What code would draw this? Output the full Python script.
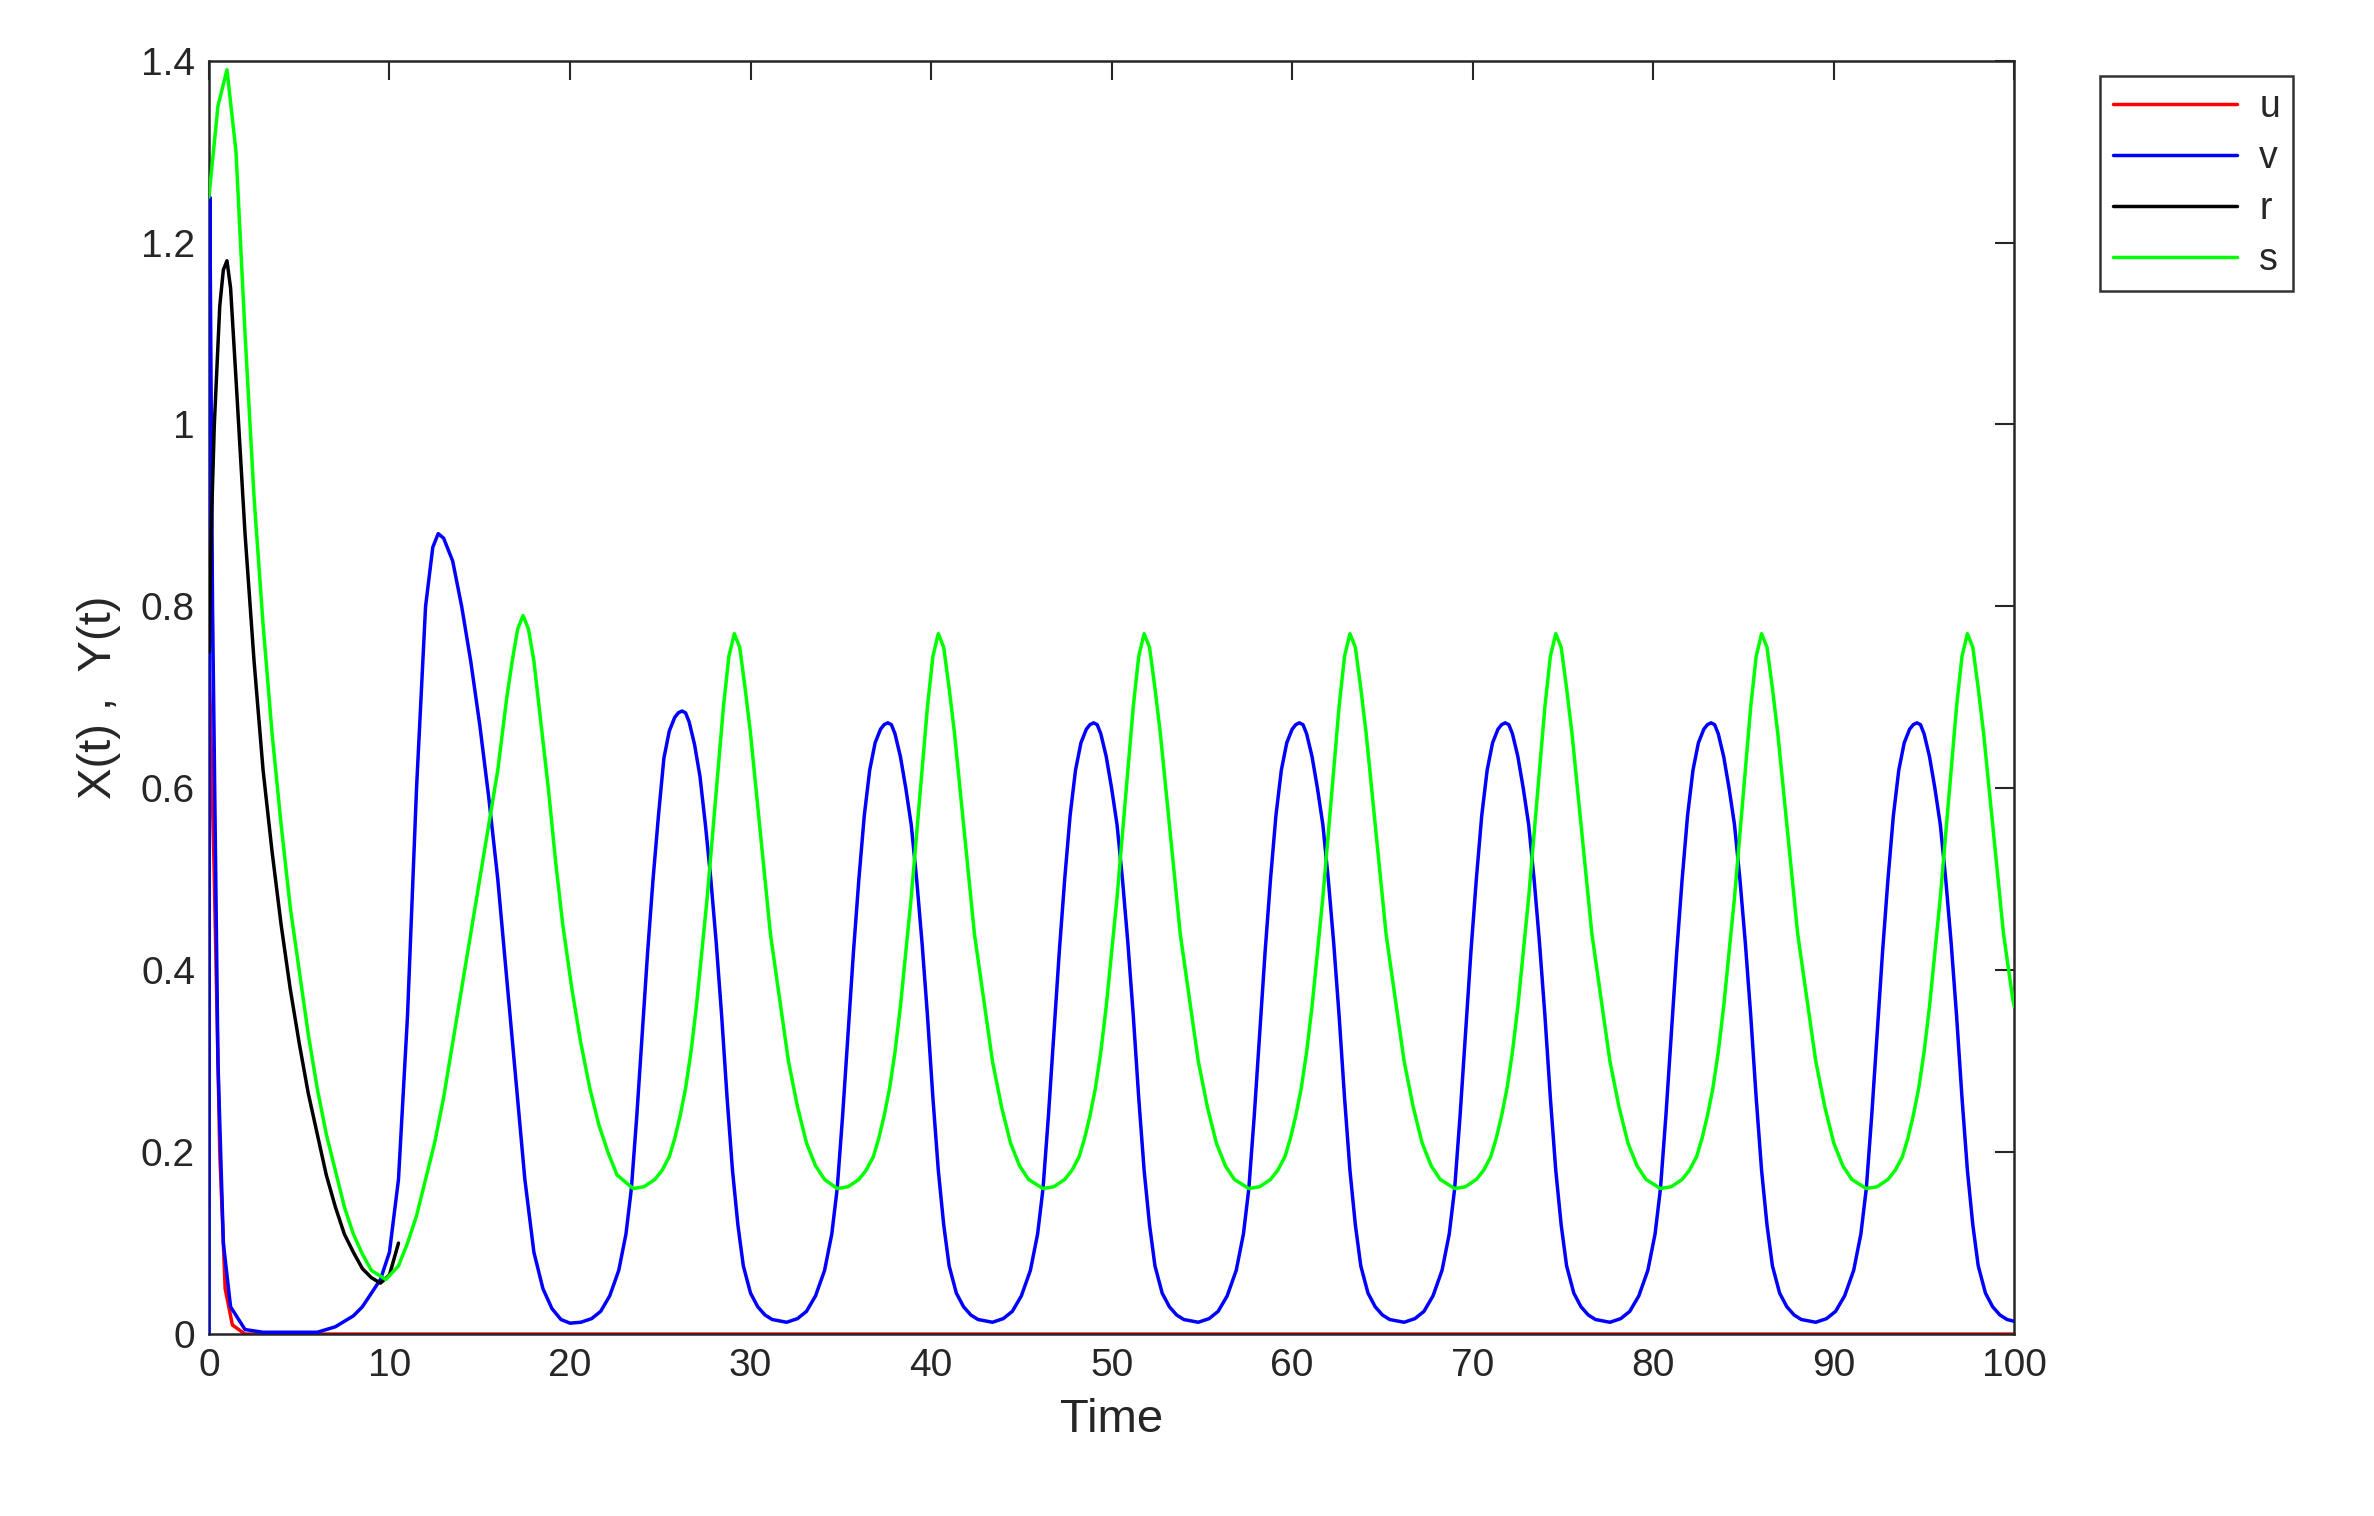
import numpy as np, pandas as pd, seaborn as sns, matplotlib
matplotlib.use("Agg")
import matplotlib.pyplot as plt

# early transients
u_t = [0, 0.3, 0.6, 0.9, 1.3, 2.0, 100]
u_y = [0.75, 0.5, 0.2, 0.05, 0.01, 0.0, 0.0]
r_t = [0, 0.15, 0.3, 0.6, 0.8, 1.0, 1.2, 1.5, 2, 2.5, 3, 3.5, 4, 4.5, 5, 5.5, 6, 6.5, 7, 7.5, 8, 8.5, 9, 9.5, 10, 10.5]
r_y = [0.75, 0.9, 1.0, 1.13, 1.17, 1.18, 1.15, 1.05, 0.88, 0.74, 0.62, 0.53, 0.45, 0.38, 0.32, 0.265, 0.22, 0.175, 0.14, 0.11, 0.09, 0.072, 0.062, 0.056, 0.065, 0.1]
v_t0 = [0, 0.05, 0.2, 0.5, 0.8, 1.2, 2, 3, 6, 7, 8, 8.5, 9, 9.5, 10, 10.5, 11, 11.5, 12, 12.4, 12.7, 13.0, 13.5, 14, 14.5, 15, 15.5, 16, 16.5, 17, 17.5, 18, 18.5, 19, 19.5, 20]
v_y0 = [0, 1.25, 0.8, 0.3, 0.1, 0.03, 0.005, 0.002, 0.002, 0.008, 0.02, 0.03, 0.045, 0.06, 0.09, 0.17, 0.35, 0.6, 0.8, 0.865, 0.88, 0.875, 0.85, 0.8, 0.74, 0.67, 0.59, 0.5, 0.39, 0.28, 0.17, 0.09, 0.05, 0.028, 0.016, 0.012]
s_t0 = [0, 0.5, 1.0, 1.5, 2.0, 2.5, 3, 3.5, 4, 4.5, 5, 5.5, 6, 6.5, 7, 7.5, 8, 8.5, 9, 9.8, 10.5, 11, 11.5, 12, 12.5, 13, 13.5, 14, 14.5, 15, 15.5, 16, 16.5, 16.8, 17.1, 17.4, 17.7, 18, 18.4, 18.8, 19.2, 19.6, 20.1, 20.6, 21.1, 21.6, 22.1, 22.6]
s_y0 = [1.25, 1.35, 1.39, 1.3, 1.1, 0.92, 0.78, 0.66, 0.56, 0.47, 0.4, 0.33, 0.27, 0.22, 0.18, 0.14, 0.11, 0.088, 0.07, 0.06, 0.075, 0.1, 0.13, 0.17, 0.21, 0.26, 0.32, 0.38, 0.44, 0.5, 0.56, 0.62, 0.7, 0.74, 0.775, 0.79, 0.775, 0.74, 0.67, 0.6, 0.52, 0.45, 0.38, 0.32, 0.27, 0.23, 0.2, 0.175]

# oscillation cycle shapes (offsets from peak) and peak times
v_cyc_dt = [-5.6, -5.0, -4.5, -4.0, -3.5, -3.1, -2.8, -2.5, -2.2, -1.9, -1.6, -1.3, -1.0, -0.7, -0.4, -0.2, 0, 0.2, 0.4, 0.7, 1.0, 1.3, 1.6, 1.9, 2.2, 2.5, 2.8, 3.1, 3.4, 3.8, 4.2, 4.6, 5.0]
v_cyc_y = [0.013, 0.017, 0.025, 0.042, 0.07, 0.11, 0.16, 0.24, 0.33, 0.42, 0.5, 0.57, 0.62, 0.65, 0.665, 0.67, 0.672, 0.67, 0.66, 0.635, 0.6, 0.56, 0.5, 0.43, 0.35, 0.26, 0.18, 0.12, 0.075, 0.045, 0.03, 0.021, 0.016]
v_peaks = [26.2, 37.6, 49.0, 60.4, 71.8, 83.2, 94.6]
v_peak_h = [0.685, 0.672, 0.672, 0.672, 0.672, 0.672, 0.672]
s_cyc_dt = [-5.6, -5.0, -4.4, -4.0, -3.6, -3.3, -3.0, -2.7, -2.4, -2.1, -1.8, -1.5, -1.2, -0.9, -0.6, -0.3, 0, 0.3, 0.6, 0.9, 1.2, 1.6, 2.0, 2.5, 3.0, 3.5, 4.0, 4.5, 5.0]
s_cyc_y = [0.16, 0.162, 0.17, 0.18, 0.195, 0.215, 0.24, 0.27, 0.31, 0.36, 0.42, 0.48, 0.55, 0.62, 0.69, 0.745, 0.77, 0.755, 0.71, 0.66, 0.6, 0.52, 0.44, 0.37, 0.3, 0.25, 0.21, 0.185, 0.17]
s_peaks = [29.1, 40.4, 51.8, 63.2, 74.6, 86.0, 97.4]
s_end = (100, 0.36)

v_t, v_y = list(v_t0), list(v_y0)
for p, h in zip(v_peaks, v_peak_h):
    extra = h - 0.672
    for dt, y in zip(v_cyc_dt, v_cyc_y):
        v_t.append(p + dt)
        v_y.append(y + extra if abs(dt) <= 1.0 else y)
v_t.append(100); v_y.append(0.014)
s_t, s_y = list(s_t0), list(s_y0)
for p in s_peaks:
    for dt, y in zip(s_cyc_dt, s_cyc_y):
        if p + dt < 100:
            s_t.append(p + dt); s_y.append(y)
s_t.append(s_end[0]); s_y.append(s_end[1])

sns.set_style("white")
plt.rcParams['font.family'] = ['Liberation Sans', 'DejaVu Sans']
fig = plt.figure(figsize=(23.74, 15.16), dpi=100)
ax = fig.add_axes([0.088, 0.12, 0.7605, 0.84])
kw = dict(estimator=None, sort=False, linewidth=2.5, ax=ax)
sns.lineplot(x=u_t, y=u_y, color='#ff0000', label='u', zorder=1, **kw)
sns.lineplot(x=v_t, y=v_y, color='#0000ff', label='v', zorder=3, **kw)
sns.lineplot(x=r_t, y=r_y, color='black', label='r', zorder=4, **kw)
sns.lineplot(x=s_t, y=s_y, color='#00ff00', label='s', zorder=5, **kw)
ax.set_xlim(0, 100); ax.set_ylim(0, 1.4)
ax.set_xticks(range(0, 101, 10))
ax.set_yticks([0, 0.2, 0.4, 0.6, 0.8, 1, 1.2, 1.4])
ax.set_yticklabels(['0', '0.2', '0.4', '0.6', '0.8', '1', '1.2', '1.4'])
ax.tick_params(direction='in', length=14, width=1.5, top=True, right=True, labelsize=28, colors='#262626', pad=10)
for s in ax.spines.values():
    s.set_linewidth(1.8); s.set_color('#262626')
ax.set_xlabel('Time', fontsize=34, color='#262626', labelpad=10)
ax.set_ylabel('X(t) ,  Y(t)', fontsize=34, color='#262626', labelpad=14)
leg = ax.legend(loc='upper left', bbox_to_anchor=(1.037, 1.003), fontsize=27, frameon=True,
                fancybox=False, edgecolor='black', handlelength=3.3, handletextpad=0.6,
                borderpad=0.35, labelspacing=0.4)
leg.get_frame().set_linewidth(1.8)
fig.savefig('out.png', dpi=100)
